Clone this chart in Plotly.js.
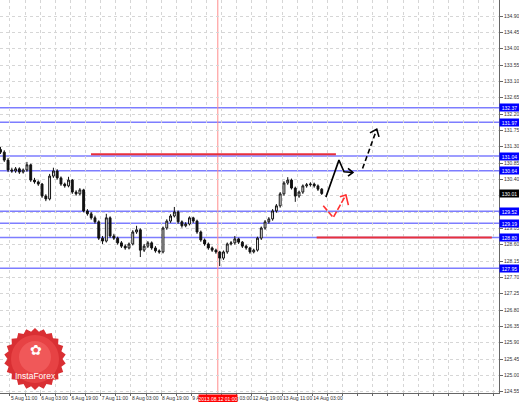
<!DOCTYPE html>
<html><head><meta charset="utf-8">
<script src="https://cdn.plot.ly/plotly-3.0.1.min.js"></script>
<style>html,body{margin:0;padding:0;background:#fff}#chart{width:519px;height:402px}</style>
</head><body><div id="chart"></div>
<script>
// ---- data (EUR/JPY, 2-hour bars) ----
const BAR_HOURS = 2;
const openP = [131.22,131.15,130.93,130.66,130.63,130.69,130.60,130.66,130.80,130.38,
130.33,130.27,129.94,129.86,130.49,130.63,130.44,130.27,130.22,130.38,
130.05,130.00,130.11,129.53,129.45,129.34,129.23,128.78,128.70,129.34,
128.84,128.78,128.65,128.56,128.51,128.62,128.95,129.01,128.45,128.56,
128.65,128.51,128.43,128.40,129.06,129.25,129.39,129.50,129.23,129.12,
129.17,129.34,129.25,128.95,128.73,128.62,128.51,128.45,128.40,128.23,
128.40,128.62,128.65,128.76,128.67,128.56,128.51,128.40,128.45,128.78,
129.06,129.23,129.31,129.53,129.67,130.00,130.30,130.38,130.16,129.94,
130.05,130.22,130.25,130.27,130.22,130.13];
const highP = [131.29,131.20,130.99,130.72,130.74,130.73,130.70,130.88,130.83,130.44,
130.37,130.30,129.99,130.55,130.72,130.68,130.48,130.31,130.47,130.41,
130.10,130.16,130.14,129.58,129.50,129.40,129.27,128.84,129.45,129.38,
128.90,128.82,128.70,128.61,128.66,129.00,129.12,129.05,128.62,128.70,
128.69,128.56,128.47,129.10,129.30,129.44,129.64,129.54,129.27,129.22,
129.38,129.37,129.29,128.99,128.77,128.66,128.55,128.49,128.43,128.44,
128.66,128.70,128.84,128.79,128.70,128.60,128.54,128.49,128.82,129.10,
129.28,129.36,129.58,129.72,130.05,130.35,130.46,130.42,130.20,130.09,
130.26,130.30,130.32,130.31,130.26,130.16];
const lowP = [131.10,130.88,130.60,130.58,130.58,130.55,130.56,130.61,130.33,130.28,
130.22,129.89,129.80,129.82,130.44,130.39,130.22,130.17,130.18,130.00,
129.95,129.96,129.49,129.40,129.29,129.18,128.73,128.62,128.66,128.79,
128.73,128.60,128.51,128.46,128.47,128.58,128.90,128.26,128.40,128.51,
128.46,128.38,128.35,128.36,129.01,129.20,129.35,129.18,129.07,129.08,
129.13,129.20,128.90,128.68,128.57,128.46,128.40,128.35,128.01,128.18,
128.35,128.58,128.60,128.62,128.51,128.46,128.35,128.36,128.41,128.73,
129.01,129.18,129.26,129.48,129.62,129.95,130.25,130.12,129.78,129.89,
130.00,130.17,130.20,130.17,130.08,129.97];
const closeP = [131.15,130.93,130.66,130.63,130.69,130.60,130.66,130.80,130.38,130.33,
130.27,129.94,129.86,130.49,130.63,130.44,130.27,130.22,130.38,130.05,
130.00,130.11,129.53,129.45,129.34,129.23,128.78,128.70,129.34,128.84,
128.78,128.65,128.56,128.51,128.62,128.95,129.01,128.45,128.56,128.65,
128.51,128.43,128.40,129.06,129.25,129.39,129.50,129.23,129.12,129.17,
129.34,129.25,128.95,128.73,128.62,128.51,128.45,128.40,128.23,128.40,
128.62,128.65,128.76,128.67,128.56,128.51,128.40,128.45,128.78,129.06,
129.23,129.31,129.53,129.67,130.00,130.30,130.38,130.16,129.94,130.05,
130.22,130.25,130.27,130.22,130.13,130.01];

const tickHours  = [5,21,37,53,69,85,101,117,133,149,165];
const tickLabels = ['5 Aug 11:00','6 Aug 03:00','6 Aug 19:00','7 Aug 11:00','8 Aug 03:00',
  '8 Aug 19:00','9 Aug 11:00','12 Aug 03:00','12 Aug 19:00','13 Aug 11:00','14 Aug 03:00'];

const blueLevels = [132.37,131.97,131.04,130.64,129.52,129.19,128.80,127.95];
const redLevels      = [131.09,128.80];
const redLevelStarts = [47.9,167.3];
const redLevelEnds   = [177.5,260];

const markerHour  = 115;
const markerLabel = '2013.08.12 01:00';

const solidArrowX = [172.2,179.1,181.8,186.5];
const solidArrowY = [129.91,130.93,130.61,130.59];
const solidHeadX  = [183.9,186.5,183.9];
const solidHeadY  = [130.70,130.59,130.49];
const dashArrowX  = [191.6,199.1];
const dashArrowY  = [130.70,131.78];
const dashHeadX   = [195.5,199.1,200.3];
const dashHeadY   = [131.68,131.78,131.57];
const redArrowX   = [170.8,176.1,182.8];
const redArrowY   = [129.67,129.35,129.97];
const redHeadX    = [179.6,182.8,184.1];
const redHeadY    = [129.92,129.97,129.69];

// ---- build ----
const xs = closeP.map((_, i) => i * BAR_HOURS);
const FONT = 'Liberation Sans, Arial, sans-serif';
const PW = 499, PH = 393;
const lastClose = closeP[closeP.length - 1];
const GRID = '#d6d6d6';

const traces = [
  {type:'candlestick', x:xs, open:openP, high:highP, low:lowP, close:closeP,
   increasing:{line:{color:'#111',width:1}, fillcolor:'#ffffff'},
   decreasing:{line:{color:'#111',width:1}, fillcolor:'#111111'},
   whiskerwidth:0, hoverinfo:'skip', showlegend:false},
  {type:'scatter', mode:'lines', x:solidArrowX, y:solidArrowY, line:{color:'#000',width:1.6}, hoverinfo:'skip', showlegend:false},
  {type:'scatter', mode:'lines', x:solidHeadX, y:solidHeadY, line:{color:'#000',width:1.6}, hoverinfo:'skip', showlegend:false},
  {type:'scatter', mode:'lines', x:dashArrowX, y:dashArrowY, line:{color:'#000',width:1.6,dash:'5px,3px'}, hoverinfo:'skip', showlegend:false},
  {type:'scatter', mode:'lines', x:dashHeadX, y:dashHeadY, line:{color:'#000',width:1.6}, hoverinfo:'skip', showlegend:false},
  {type:'scatter', mode:'lines', x:redArrowX, y:redArrowY, line:{color:'#ff3030',width:1.6,dash:'6px,2px'}, hoverinfo:'skip', showlegend:false},
  {type:'scatter', mode:'lines', x:redHeadX, y:redHeadY, line:{color:'#ff3030',width:1.6}, hoverinfo:'skip', showlegend:false}
];

// x grid every 8 bars, labels every 16
const gridVals = [], gridText = [];
for (let h = 5; h < 264; h += 8) {
  gridVals.push(h);
  const k = tickHours.indexOf(h);
  gridText.push(k >= 0 ? tickLabels[k] : '');
}
// y grid every 0.45; labels hidden where a price box covers them
const boxLevels = blueLevels.concat([lastClose]);
const yVals = [], yText = [];
for (let k = 0; k <= 24; k++) {
  const v = +(124.55 + k * 0.45).toFixed(2);
  yVals.push(v);
  yText.push(boxLevels.some(b => Math.abs(b - v) < 0.1) ? '' : v.toFixed(2));
}

const shapes = [];
blueLevels.forEach(v => shapes.push({type:'line', xref:'paper', x0:0, x1:1, yref:'y', y0:v, y1:v,
  line:{color:'rgb(125,125,255)', width:1.5}, layer:'between'}));
shapes.push({type:'line', xref:'x', x0:markerHour, x1:markerHour, yref:'paper', y0:0, y1:1,
  line:{color:'#ff8c8c', width:1}, layer:'between'});
redLevels.forEach((v, i) => shapes.push({type:'line', xref:'x', x0:redLevelStarts[i], x1:redLevelEnds[i],
  yref:'y', y0:v, y1:v, line:{color:'#e8303c', width:2}, layer:'above'}));

// logo badge (decoration)
function starPath(cx, cy, R, r, n) {
  let d = '';
  for (let i = 0; i < 2 * n; i++) {
    const a = i * Math.PI / n - Math.PI / 2;
    const rad = (i % 2 === 0) ? R : r;
    const px = cx + rad * Math.cos(a), py = cy + rad * Math.sin(a);
    d += (i === 0 ? 'M' : 'L') + (px / PW).toFixed(5) + ',' + (1 - py / PH).toFixed(5);
  }
  return d + 'Z';
}
function circ(cx, cy, r, fill) {
  return {type:'circle', xref:'paper', yref:'paper', x0:(cx-r)/PW, x1:(cx+r)/PW, y0:1-(cy+r)/PH, y1:1-(cy-r)/PH,
    fillcolor:fill, line:{width:0}, layer:'above'};
}
shapes.push({type:'path', xref:'paper', yref:'paper', path:starPath(35, 359, 31, 27.5, 22),
  fillcolor:'#d92f33', line:{width:0}, layer:'above'});
shapes.push(circ(35, 359, 24, 'rgba(240,80,80,0.6)'));
shapes.push(circ(35, 357, 16, 'rgba(250,110,110,0.5)'));

const annotations = [];
boxLevels.forEach((v, i) => annotations.push({xref:'paper', x:1, xanchor:'left', yref:'y', y:v, yanchor:'middle',
  text:v.toFixed(2), showarrow:false, bgcolor:(i === boxLevels.length - 1) ? '#000' : '#0000ff',
  font:{family:FONT, size:5, color:'#fff'}, width:19, height:7, borderpad:0}));
annotations.push({xref:'x', x:markerHour, xanchor:'center', yref:'paper', y:0, yanchor:'top', yshift:-1,
  text:markerLabel, showarrow:false, bgcolor:'#ff0000', font:{family:FONT, size:5, color:'#fff'},
  width:38, height:7, borderpad:0});
annotations.push({xref:'paper', x:36/PW, xanchor:'center', yref:'paper', y:1-350/PH, yanchor:'middle',
  text:'✿', showarrow:false, font:{family:'DejaVu Sans', size:14, color:'#fff'}});
annotations.push({xref:'paper', x:35/PW, xanchor:'center', yref:'paper', y:1-376/PH, yanchor:'middle',
  text:'InstaForex', showarrow:false, font:{family:FONT, size:8.5, color:'#fff'}});

const layout = {
  width:519, height:402, margin:{l:0, r:20, t:0, b:9, pad:0},
  paper_bgcolor:'#fff', plot_bgcolor:'#fff', showlegend:false, dragmode:false,
  xaxis:{type:'linear', range:[-0.26, 263.8], tickmode:'array', tickvals:gridVals, ticktext:gridText,
    tickangle:0, ticks:'outside', ticklen:2, tickcolor:'#666', ticklabelposition:'outside right',
    tickfont:{family:FONT, size:5, color:'#333'}, showgrid:true, gridcolor:GRID, griddash:'dot', gridwidth:1,
    showline:true, linecolor:'#666', linewidth:1, zeroline:false, rangeslider:{visible:false},
    fixedrange:true, automargin:false},
  yaxis:{side:'right', range:[124.514, 135.341], tickmode:'array', tickvals:yVals, ticktext:yText,
    ticks:'outside', ticklen:3, tickcolor:'#666', tickfont:{family:FONT, size:5, color:'#333'},
    showgrid:true, gridcolor:GRID, griddash:'dot', gridwidth:1,
    showline:true, linecolor:'#666', linewidth:1, zeroline:false, fixedrange:true, automargin:false},
  shapes:shapes, annotations:annotations
};
Plotly.newPlot('chart', traces, layout, {staticPlot:true, displayModeBar:false});
</script></body></html>
